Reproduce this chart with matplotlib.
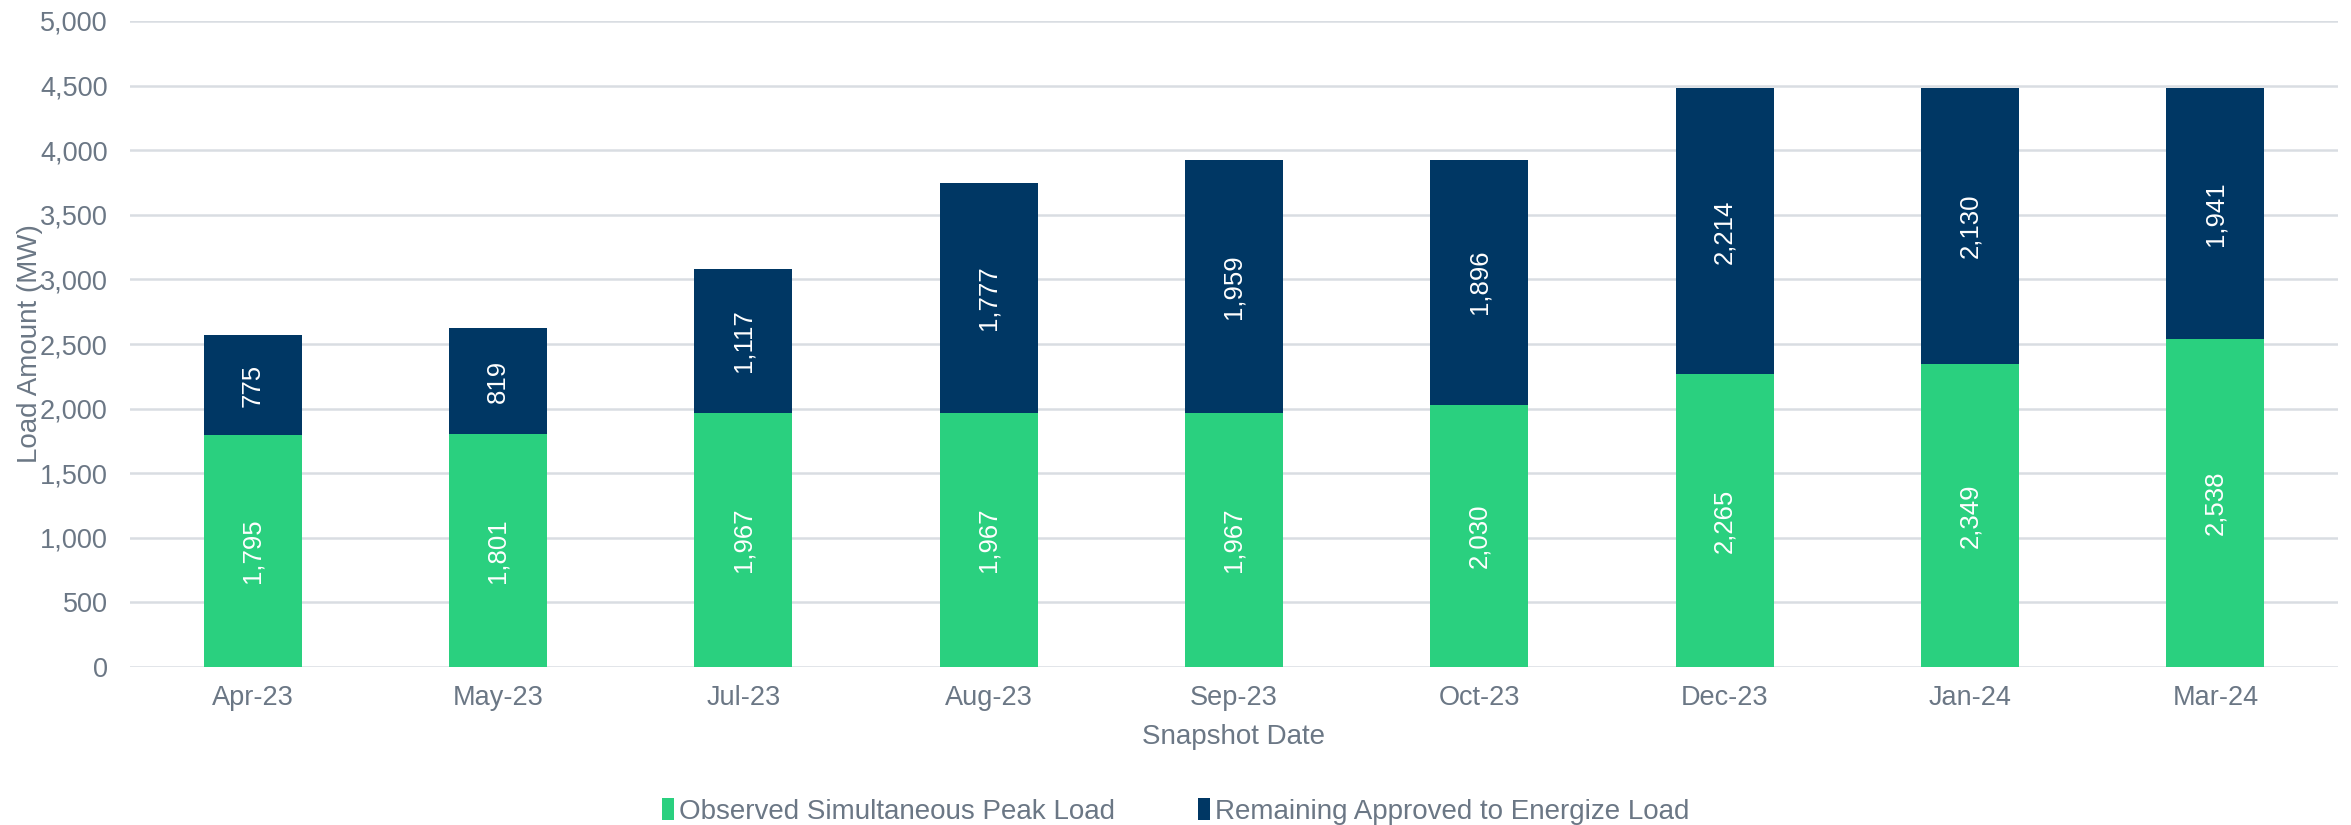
import matplotlib.pyplot as plt
import numpy as np

plt.rcParams['font.family'] = ['Liberation Sans', 'DejaVu Sans']

dates = ['Apr-23', 'May-23', 'Jul-23', 'Aug-23', 'Sep-23', 'Oct-23', 'Dec-23', 'Jan-24', 'Mar-24']
observed = [1795, 1801, 1967, 1967, 1967, 2030, 2265, 2349, 2538]
remaining = [775, 819, 1117, 1777, 1959, 1896, 2214, 2130, 1941]
yticks = [0, 500, 1000, 1500, 2000, 2500, 3000, 3500, 4000, 4500, 5000]

GREEN = '#2ad07f'
NAVY = '#003764'
GREY = '#6b7785'
GRID = '#d9dde2'


def main():
    fig = plt.figure(figsize=(23.51, 8.25), dpi=100)
    ax = fig.add_axes([130 / 2351, 1 - 667 / 825, 2208 / 2351, 646 / 825])
    x = np.arange(len(dates))
    b1 = ax.bar(x, observed, width=0.4, color=GREEN, label='Observed Simultaneous Peak Load', zorder=2)
    b2 = ax.bar(x, remaining, width=0.4, bottom=observed, color=NAVY,
                label='Remaining Approved to Energize Load', zorder=2)
    for bars in (b1, b2):
        ax.bar_label(bars, labels=[f'{v:,}' for v in bars.datavalues], label_type='center',
                     rotation=90, color='white', fontsize=18.5)

    ax.set_xlim(-0.5, len(dates) - 0.5)
    ax.set_ylim(0, 5000)
    ax.set_yticks(yticks)
    ax.set_yticklabels([f'{v:,}' for v in yticks])
    ax.set_xticks(x)
    ax.set_xticklabels(dates)
    ax.tick_params(axis='both', length=0, colors=GREY, labelsize=19.5)
    ax.tick_params(axis='x', pad=13)
    ax.tick_params(axis='y', pad=16)
    ax.yaxis.grid(True, color=GRID, linewidth=1.8, zorder=0)
    ax.set_axisbelow(True)
    for s in ax.spines.values():
        s.set_visible(False)
    ax.set_xlabel('Snapshot Date', color=GREY, fontsize=20, labelpad=9)
    ax.set_ylabel('Load Amount (MW)', color=GREY, fontsize=20, labelpad=-2)

    fig.legend(loc='lower center', bbox_to_anchor=(0.5, -0.03), ncol=2, frameon=False,
               fontsize=20, labelcolor=GREY, handlelength=0.45, handleheight=0.8,
               handletextpad=0.15, columnspacing=3)
    fig.savefig('out.png', dpi=100)


if __name__ == "__main__":
    main()
